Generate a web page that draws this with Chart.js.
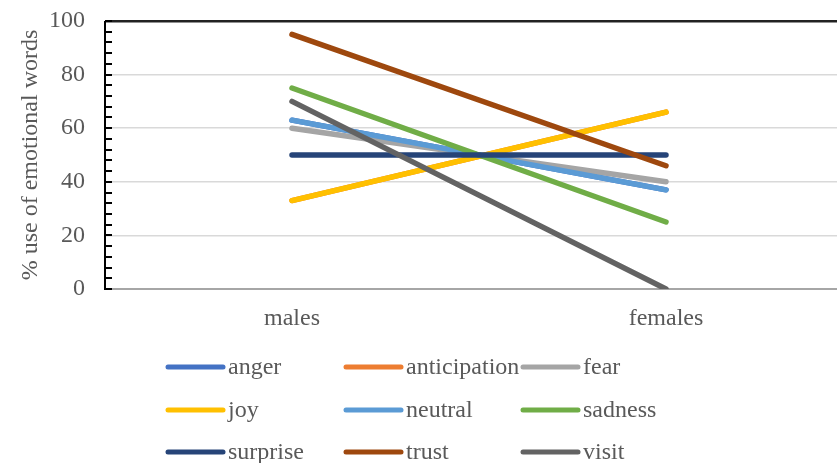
<!DOCTYPE html>
<html>
<head>
<meta charset="utf-8">
<style>
  html, body { margin: 0; padding: 0; background: #fff; overflow: hidden; }
  #wrap { width: 837px; height: 463px; overflow: hidden; position: relative; }
  #box { width: 853px; height: 463px; position: absolute; left: 0; top: 0; }
</style>
<script src="https://cdn.jsdelivr.net/npm/chart.js@4/dist/chart.umd.min.js"></script>
</head>
<body>
<div id="wrap"><div id="box"><canvas id="c"></canvas></div></div>
<script>
// Categories and per-emotion shares (% use of emotional words)
const categories = ['males', 'females'];
const anger        = [63, 37];
const anticipation = [33, 66];
const fear         = [60, 40];
const joy          = [33, 66];
const neutral      = [63, 37];
const sadness      = [75, 25];
const surprise     = [50, 50];
const trust        = [95, 46];
const visit        = [70, 0];
const yTicks = [0, 20, 40, 60, 80, 100];

const seriesNames = ['anger', 'anticipation', 'fear', 'joy', 'neutral', 'sadness', 'surprise', 'trust', 'visit'];
const seriesData = [anger, anticipation, fear, joy, neutral, sadness, surprise, trust, visit];
const seriesColors = ['#4472C4', '#ED7D31', '#A5A5A5', '#FFC000', '#5B9BD5', '#70AD47', '#264478', '#9E480E', '#636363'];

const FONT = "'Liberation Serif', 'Times New Roman', serif";
const TEXT = '#595959';

// Later series paint over earlier ones
const datasets = seriesNames.map((name, i) => ({
  label: name,
  data: seriesData[i],
  borderColor: seriesColors[i],
  backgroundColor: seriesColors[i],
  borderWidth: 5.5,
  borderCapStyle: 'round',
  borderJoinStyle: 'round',
  pointRadius: 0,
  fill: false,
  tension: 0,
  order: seriesNames.length - 1 - i
}));

// Minor/major tick marks along the inside of the value axis
const axisTicks = {
  id: 'axisTicks',
  afterDatasetsDraw(chart) {
    const y = chart.scales.y;
    const ctx = chart.ctx;
    const x0 = chart.chartArea.left;
    ctx.save();
    ctx.strokeStyle = '#000';
    ctx.lineWidth = 2;
    for (let v = 0; v <= 100; v += 4) {
      const py = Math.round(y.getPixelForValue(v));
      ctx.beginPath();
      ctx.moveTo(x0, py);
      ctx.lineTo(x0 + 7, py);
      ctx.stroke();
    }
    // value axis line
    ctx.beginPath();
    ctx.moveTo(x0, chart.chartArea.top);
    ctx.lineTo(x0, chart.chartArea.bottom + 1);
    ctx.stroke();
    ctx.restore();
  }
};

// Three-column legend under the plot
const gridLegend = {
  id: 'gridLegend',
  afterDraw(chart) {
    const ctx = chart.ctx;
    const colX = [168, 346, 523];
    const rowY = [367, 410, 452];
    ctx.save();
    ctx.font = '24px ' + FONT;
    ctx.textBaseline = 'middle';
    ctx.textAlign = 'left';
    chart.data.datasets.forEach((ds, i) => {
      const x = colX[i % 3];
      const y = rowY[Math.floor(i / 3)];
      ctx.strokeStyle = ds.borderColor;
      ctx.lineWidth = 5;
      ctx.lineCap = 'round';
      ctx.beginPath();
      ctx.moveTo(x, y);
      ctx.lineTo(x + 55, y);
      ctx.stroke();
      ctx.fillStyle = TEXT;
      ctx.fillText(ds.label, x + 60, y + 1);
    });
    ctx.restore();
  }
};

new Chart(document.getElementById('c'), {
  type: 'line',
  data: { labels: categories, datasets },
  options: {
    responsive: true,
    maintainAspectRatio: false,
    animation: false,
    layout: { padding: { top: 21, right: 0, bottom: 129, left: 0 } },
    plugins: { legend: { display: false }, tooltip: { enabled: false } },
    scales: {
      x: {
        offset: true,
        grid: { display: false, drawTicks: false },
        border: { display: true, color: '#a6a6a6', width: 2 },
        ticks: { color: TEXT, font: { family: FONT, size: 24 }, padding: 15 },
        afterFit(s) { s.height = 45; s.paddingLeft = 0; s.paddingRight = 0; }
      },
      y: {
        min: 0, max: 100,
        afterBuildTicks(s) { s.ticks = yTicks.map(v => ({ value: v })); },
        grid: {
          drawTicks: false,
          color: ctx => ctx.tick && ctx.tick.value === 100 ? '#222' : (ctx.tick && ctx.tick.value === 0 ? 'rgba(0,0,0,0)' : '#d9d9d9'),
          lineWidth: ctx => ctx.tick && ctx.tick.value === 100 ? 2.5 : 1.5
        },
        border: { display: false },
        ticks: { color: TEXT, font: { family: FONT, size: 24 }, padding: 20 },
        title: { display: true, text: '% use of emotional words', color: TEXT, font: { family: FONT, size: 24 }, padding: { top: 16, bottom: 0 } },
        afterFit(s) { s.width = 105; s.paddingTop = 0; s.paddingBottom = 0; }
      }
    }
  },
  plugins: [axisTicks, gridLegend]
});
</script>
</body>
</html>
